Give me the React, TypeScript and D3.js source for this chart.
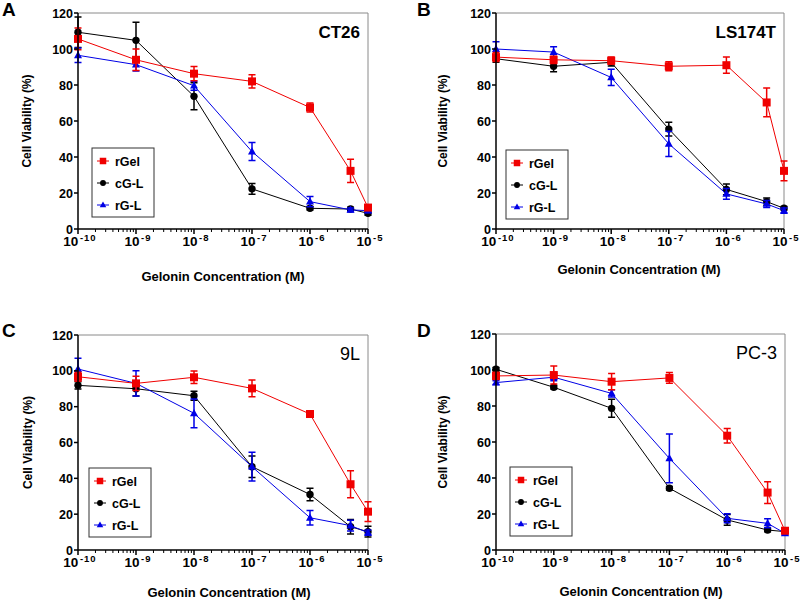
import * as d3 from "d3";

// x values (M)
const conc = [1e-10, 1e-9, 1e-8, 1e-7, 1e-6, 5e-6, 1e-5];
const yTicks = [0, 20, 40, 60, 80, 100, 120];
const xTicks = [-10, -9, -8, -7, -6, -5];
const seriesNames = ["rGel", "cG-L", "rG-L"];

// A: CT26
const ct26RGel = [105.6, 94, 86.3, 82, 67.5, 32.3, 11.9];
const ct26RGelErr = [6, 6, 4, 3.7, 2.5, 6.5, 1.5];
const ct26CGL = [109.3, 104.8, 73.7, 22.3, 11.5, 11.1, 8.7];
const ct26CGLErr = [8.5, 10, 7.5, 3, 1, 1, 1];
const ct26RGL = [96.5, 91.3, 79.6, 43, 15.2, 10.6, 10.2];
const ct26RGLErr = [4, 3.5, 2.5, 5, 2.8, 1, 1];

// B: LS174T
const ls174RGel = [95.5, 94, 93.5, 90.4, 91, 70.3, 32.3];
const ls174RGelErr = [2.5, 2, 2, 2.5, 4.5, 8, 5.5];
const ls174CGL = [94.6, 90.4, 92.6, 55.5, 22, 15.2, 11.5];
const ls174CGLErr = [2, 3, 2, 3.8, 3, 2, 1];
const ls174RGL = [100, 98.3, 84.2, 47.3, 19.5, 13.9, 10.2];
const ls174RGLErr = [4, 3, 4.5, 7, 3, 2, 1.5];

// C: 9L
const l9RGel = [96.7, 93, 96.4, 90.2, 75.9, 36.7, 21.4];
const l9RGelErr = [2.5, 4, 3.5, 4.7, 1.5, 7.5, 5.5];
const l9CGL = [91.9, 90, 86.1, 46.5, 31, 13, 10.2];
const l9CGLErr = [2, 4, 2.5, 6, 3.5, 4, 3];
const l9RGL = [101, 93, 76.3, 46.5, 18, 13.6, 9.7];
const l9RGLErr = [6, 7, 8, 8, 4, 3, 1.5];

// D: PC-3
const pc3RGel = [96.7, 97.2, 93.5, 95.6, 63.5, 31.9, 10.7];
const pc3RGelErr = [2, 5, 4.5, 3, 4, 6, 1];
const pc3CGL = [100.4, 90.4, 78.7, 34.3, 16.7, 11.1, 10.2];
const pc3CGLErr = [1, 1, 5, 1, 3, 1, 1];
const pc3RGL = [93, 96, 87, 50.9, 17.6, 14.8, 9.3];
const pc3RGLErr = [1, 2, 2, 13.5, 2.5, 2.5, 1];

const RED = "#f00000";
const BLUE = "#0000e6";
const BLACK = "#000000";

const panels = [
  {
    letter: "A", title: "CT26", bold: true,
    box: { x0: 78, x1: 368, top: 13, bottom: 229 }, letterPos: [2, 16],
    legend: [92, 148], xLabel: [223, 281], yLabel: 27,
    series: [
      { v: ct26RGel, e: ct26RGelErr }, { v: ct26CGL, e: ct26CGLErr }, { v: ct26RGL, e: ct26RGLErr },
    ],
  },
  {
    letter: "B", title: "LS174T", bold: true,
    box: { x0: 496, x1: 784, top: 13, bottom: 229 }, letterPos: [417, 16],
    legend: [506, 150], xLabel: [639, 274], yLabel: 443,
    series: [
      { v: ls174RGel, e: ls174RGelErr }, { v: ls174CGL, e: ls174CGLErr }, { v: ls174RGL, e: ls174RGLErr },
    ],
  },
  {
    letter: "C", title: "9L", bold: false,
    box: { x0: 78, x1: 368, top: 335, bottom: 550 }, letterPos: [2, 337],
    legend: [89, 468], xLabel: [229, 597], yLabel: 28,
    series: [
      { v: l9RGel, e: l9RGelErr }, { v: l9CGL, e: l9CGLErr }, { v: l9RGL, e: l9RGLErr },
    ],
  },
  {
    letter: "D", title: "PC-3", bold: false,
    box: { x0: 496, x1: 785, top: 334, bottom: 550 }, letterPos: [417, 337],
    legend: [510, 467], xLabel: [641, 596], yLabel: 443,
    series: [
      { v: pc3RGel, e: pc3RGelErr }, { v: pc3CGL, e: pc3CGLErr }, { v: pc3RGL, e: pc3RGLErr },
    ],
  },
];

const colors = [RED, BLACK, BLUE];
const FONT = "Liberation Sans, Arial, sans-serif";

function Marker({ kind, x, y, s, color }: { kind: number; x: number; y: number; s: number; color: string }) {
  if (kind === 0) return <rect x={x - s / 2} y={y - s / 2} width={s} height={s} fill={color} />;
  if (kind === 1) return <circle cx={x} cy={y} r={s / 2 - 0.3} fill={color} />;
  const h = s * 0.9;
  return (
    <path
      d={`M${x},${y - h * 0.6}L${x + s / 2},${y + h * 0.4}L${x - s / 2},${y + h * 0.4}Z`}
      fill={color}
    />
  );
}

function Panel({ p }: { p: (typeof panels)[number] }) {
  const { x0, x1, top, bottom } = p.box;
  const x = d3.scaleLog().domain([1e-10, 1e-5]).range([x0, x1]);
  const y = d3.scaleLinear().domain([0, 120]).range([bottom, top]);
  const line = d3
    .line<number>()
    .x((_, i) => x(conc[i]))
    .y((d) => y(d));

  const minor: number[] = [];
  for (let e = -10; e < -5; e++) for (let m = 2; m <= 9; m++) minor.push(m * Math.pow(10, e));

  // draw order: cG-L, rG-L, rGel on top
  const order = [1, 2, 0];

  return (
    <g>
      <text x={p.letterPos[0]} y={p.letterPos[1]} fontSize={19} fontWeight="bold" fontFamily={FONT}>
        {p.letter}
      </text>
      {/* frame */}
      <path d={`M${x0},${top}H${x1}V${bottom}`} fill="none" stroke="#8a8a8a" strokeWidth={1} />
      {/* series */}
      {order.map((k) => {
        const s = p.series[k];
        const c = colors[k];
        return (
          <g key={k}>
            <path d={line(s.v) || ""} fill="none" stroke={c} strokeWidth={1} />
            {s.v.map((v, i) => {
              const cx = x(conc[i]);
              const yt = y(v + s.e[i]);
              const yb = y(v - s.e[i]);
              return (
                <g key={i}>
                  <path
                    d={`M${cx},${yt}V${yb}M${cx - 3.5},${yt}H${cx + 3.5}M${cx - 3.5},${yb}H${cx + 3.5}`}
                    stroke={c}
                    strokeWidth={1.5}
                    fill="none"
                  />
                  <Marker kind={k} x={cx} y={y(v)} s={8} color={c} />
                </g>
              );
            })}
          </g>
        );
      })}
      {/* y axis */}
      <line x1={x0} x2={x0} y1={top} y2={bottom} stroke="#000" strokeWidth={1.5} />
      {yTicks.map((t) => (
        <g key={t}>
          <line x1={x0 - 4} x2={x0} y1={y(t)} y2={y(t)} stroke="#000" strokeWidth={1.5} />
          <text
            x={x0 - 5}
            y={y(t) + 4.5}
            textAnchor="end"
            fontSize={12.5}
            fontWeight="bold"
            fontFamily={FONT}
          >
            {t}
          </text>
        </g>
      ))}
      {/* x axis */}
      <line x1={x0} x2={x1} y1={bottom} y2={bottom} stroke="#000" strokeWidth={1.5} />
      {minor.map((m) => (
        <line key={m} x1={x(m)} x2={x(m)} y1={bottom} y2={bottom + 3} stroke="#000" strokeWidth={1} />
      ))}
      {xTicks.map((e) => {
        const tx = x(Math.pow(10, e));
        return (
          <g key={e}>
            <line x1={tx} x2={tx} y1={bottom} y2={bottom + 5} stroke="#000" strokeWidth={1.5} />
            <text
              x={tx + 2}
              y={bottom + 17}
              textAnchor="middle"
              fontSize={13.5}
              fontWeight="bold"
              fontFamily={FONT}
            >
              <tspan>10</tspan>
              <tspan dx={1.5} dy={-5} fontSize={9.5} letterSpacing={1}>
                {String(e)}
              </tspan>
            </text>
          </g>
        );
      })}
      {/* title */}
      <text
        x={x1 - 8}
        y={top + 25}
        textAnchor="end"
        fontSize={p.bold ? 17 : 18}
        fontWeight={p.bold ? "bold" : "normal"}
        fontFamily={FONT}
      >
        {p.title}
      </text>
      {/* axis labels */}
      <text
        transform={`translate(${p.yLabel + 4},${(top + bottom) / 2}) rotate(-90)`}
        textAnchor="middle"
        fontSize={12}
        fontWeight="bold"
        fontFamily={FONT}
      >
        Cell Viability (%)
      </text>
      <text x={p.xLabel[0]} y={p.xLabel[1]} textAnchor="middle" fontSize={13} fontWeight="bold" fontFamily={FONT}>
        Gelonin Concentration (M)
      </text>
      {/* legend */}
      <g transform={`translate(${p.legend[0]},${p.legend[1]})`}>
        <rect x={0} y={0} width={62} height={69} fill="#fff" stroke="#333" strokeWidth={1} />
        {seriesNames.map((n, k) => {
          const ly = 13 + k * 22;
          return (
            <g key={n}>
              <line x1={5} x2={17} y1={ly} y2={ly} stroke={colors[k]} strokeWidth={1} />
              <Marker kind={k} x={11} y={ly} s={6.5} color={colors[k]} />
              <text x={23} y={ly + 4.5} fontSize={12.5} fontWeight="bold" fontFamily={FONT}>
                {n}
              </text>
            </g>
          );
        })}
      </g>
    </g>
  );
}

export default function App() {
  return (
    <svg width={800} height={601} style={{ position: "absolute", left: 0, top: 0, background: "#fff" }}>
      <rect width={800} height={601} fill="#fff" />
      {panels.map((p) => (
        <Panel key={p.letter} p={p} />
      ))}
    </svg>
  );
}
